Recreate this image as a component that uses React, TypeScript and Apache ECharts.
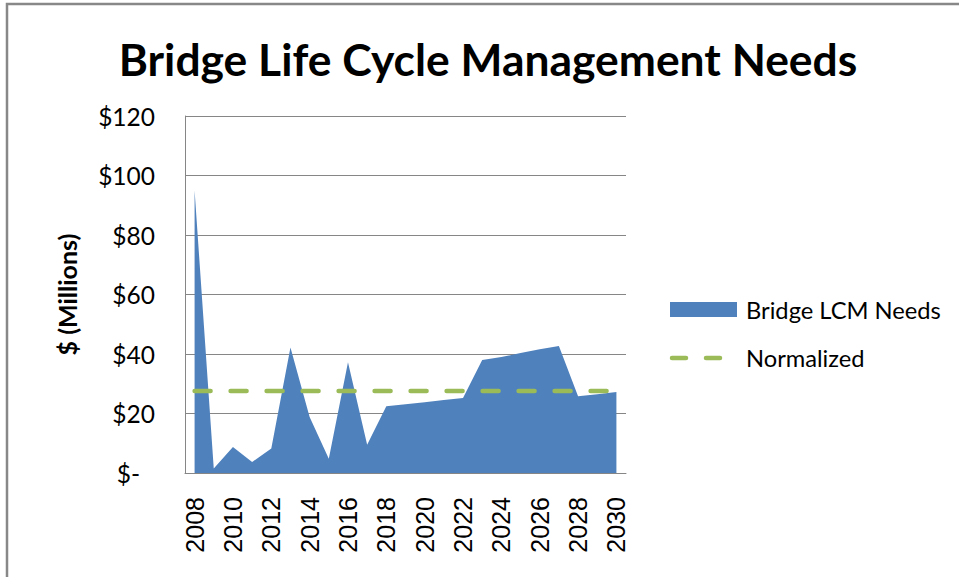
import React, { useEffect, useRef } from "react";
import * as echarts from "echarts";

const years = [
  "2008", "2009", "2010", "2011", "2012", "2013", "2014", "2015", "2016", "2017", "2018", "2019",
  "2020", "2021", "2022", "2023", "2024", "2025", "2026", "2027", "2028", "2029", "2030",
];
const lcmNeeds = [
  95, 1.5, 8.7, 3.7, 8.2, 42.2, 18.8, 4.8, 37.2, 9.5, 22.4, 23.1,
  23.8, 24.5, 25.2, 38, 39, 40.3, 41.6, 42.7, 25.8, 26.5, 27.2,
];
const normalized = years.map(() => 27.6);
const yTicks = [0, 20, 40, 60, 80, 100, 120];
const seriesNames = ["Bridge LCM Needs", "Normalized"];

export default function App() {
  const ref = useRef<HTMLDivElement>(null);
  useEffect(() => {
    if (!ref.current) return;
    const chart = echarts.init(ref.current, null, { renderer: "svg" });
    chart.setOption({
      animation: false,
      backgroundColor: "#ffffff",
      title: {
        text: "Bridge Life Cycle Management Needs",
        left: 483,
        top: 31,
        textAlign: "center",
        textStyle: { fontFamily: "Lato", fontWeight: "bold", fontSize: 44.4, color: "#000" },
      },
      graphic: [
        {
          type: "rect",
          shape: { x: 7, y: 4, width: 1000, height: 1000 },
          style: { fill: "none", stroke: "#888888", lineWidth: 2.5 },
          silent: true,
        },
        {
          type: "rect",
          shape: { x: 670, y: 302, width: 67, height: 15 },
          style: { fill: "#4F81BD" },
          silent: true,
        },
        {
          type: "line",
          shape: { x1: 672, y1: 358, x2: 686, y2: 358 },
          style: { stroke: "#9BBB59", lineWidth: 4.5, lineCap: "round" },
          silent: true,
        },
        {
          type: "line",
          shape: { x1: 706, y1: 358, x2: 720, y2: 358 },
          style: { stroke: "#9BBB59", lineWidth: 4.5, lineCap: "round" },
          silent: true,
        },
        {
          type: "text",
          x: 746,
          y: 310,
          style: {
            text: seriesNames[0],
            fontFamily: "Lato",
            fontSize: 23.7,
            fill: "#000",
            verticalAlign: "middle",
            align: "left",
          },
          silent: true,
        },
        {
          type: "text",
          x: 746,
          y: 358,
          style: {
            text: seriesNames[1],
            fontFamily: "Lato",
            fontSize: 23.7,
            fill: "#000",
            verticalAlign: "middle",
            align: "left",
          },
          silent: true,
        },
      ],
      grid: { left: 185, right: 333, top: 116, bottom: 104, containLabel: false },
      xAxis: {
        type: "category",
        data: years,
        boundaryGap: true,
        axisLine: { show: true, lineStyle: { color: "#868686", width: 1 } },
        axisTick: { show: false },
        axisLabel: {
          interval: 1,
          rotate: 90,
          margin: 24,
          fontFamily: "Liberation Sans",
          fontSize: 25,
          color: "#000",
        },
      },
      yAxis: {
        type: "value",
        min: yTicks[0],
        max: yTicks[yTicks.length - 1],
        interval: 20,
        name: "$ (Millions)",
        nameLocation: "middle",
        nameGap: 106,
        nameTextStyle: { fontFamily: "Lato", fontWeight: "bold", fontSize: 25, color: "#000" },
        axisLine: { show: true, lineStyle: { color: "#868686", width: 1 } },
        axisTick: { show: false },
        splitLine: { show: true, lineStyle: { color: "#868686", width: 1 } },
        axisLabel: {
          margin: 30,
          fontFamily: "Lato",
          fontSize: 24.5,
          color: "#000",
          formatter: (v: number) => (v === 0 ? "{z|$-}" : "$" + v),
          rich: { z: { fontFamily: "Lato", fontSize: 24.5, color: "#000", padding: [0, 15, 0, 0] } },
        },
      },
      series: [
        {
          name: seriesNames[0],
          type: "line",
          data: lcmNeeds,
          color: "#4F81BD",
          symbol: "none",
          lineStyle: { width: 0, color: "#4F81BD" },
          areaStyle: { color: "#4F81BD", opacity: 1 },
          itemStyle: { color: "#4F81BD" },
          z: 2,
        },
        {
          name: seriesNames[1],
          type: "line",
          data: normalized,
          color: "#9BBB59",
          symbol: "none",
          lineStyle: { width: 4.5, color: "#9BBB59", type: [16, 20], cap: "round" },
          itemStyle: { color: "#9BBB59" },
          z: 3,
        },
      ],
    });
    return () => chart.dispose();
  }, []);
  return (
    <div
      ref={ref}
      style={{ position: "fixed", left: 0, top: 0, width: 959, height: 577 }}
    />
  );
}
